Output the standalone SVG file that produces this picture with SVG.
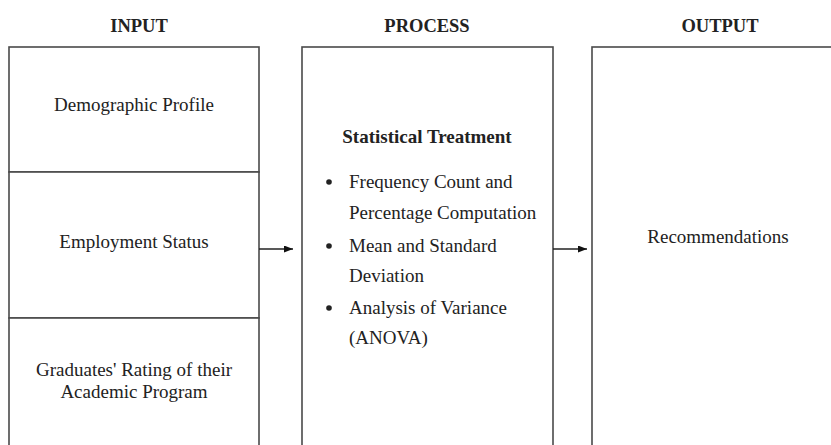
<svg xmlns="http://www.w3.org/2000/svg" width="831" height="445" viewBox="0 0 831 445">
<style>
.box{fill:#fff;stroke:#4a4a4a;stroke-width:1.6}
.t{font-family:"Liberation Serif","Times New Roman",serif;font-size:19px;fill:#222}
.c{text-anchor:middle}
.b{font-weight:bold}
.h{font-family:"Liberation Serif","Times New Roman",serif;font-size:18.5px;font-weight:bold;fill:#222;text-anchor:middle}
.conn{stroke:#222;stroke-width:1.5;fill:none}
</style>
<defs>
<marker id="arr" viewBox="0 0 10 10" refX="10" refY="5" markerWidth="9" markerHeight="7" markerUnits="userSpaceOnUse" orient="auto" preserveAspectRatio="none">
<path d="M0,0 L10,5 L0,10 Z" fill="#111"/>
</marker>
</defs>
<rect width="831" height="445" fill="#fff"/>
<g id="headers">
<text class="h" x="139" y="32">INPUT</text>
<text class="h" x="427" y="32">PROCESS</text>
<text class="h" x="720" y="32">OUTPUT</text>
</g>
<g id="input-demographic">
<rect class="box" x="9" y="47" width="250" height="125"/>
<text class="t c" x="134" y="111">Demographic Profile</text>
</g>
<g id="input-employment">
<rect class="box" x="9" y="172" width="250" height="146"/>
<text class="t c" x="134" y="248">Employment Status</text>
</g>
<g id="input-rating">
<rect class="box" x="9" y="318" width="250" height="150"/>
<text class="t c" x="134" y="376">Graduates' Rating of their</text>
<text class="t c" x="134" y="398">Academic Program</text>
</g>
<g id="process">
<rect class="box" x="302" y="47" width="251" height="420"/>
<text class="t c b" x="427" y="143">Statistical Treatment</text>
<g fill="#222">
<circle cx="329" cy="182" r="2.8"/>
<circle cx="329" cy="246" r="2.8"/>
<circle cx="329" cy="308" r="2.8"/>
</g>
<text class="t" x="349" y="188">Frequency Count and</text>
<text class="t" x="349" y="219">Percentage Computation</text>
<text class="t" x="349" y="252">Mean and Standard</text>
<text class="t" x="349" y="282">Deviation</text>
<text class="t" x="349" y="314">Analysis of Variance</text>
<text class="t" x="349" y="344">(ANOVA)</text>
</g>
<g id="output">
<rect class="box" x="592" y="47" width="256" height="420"/>
<text class="t c" x="718" y="243">Recommendations</text>
</g>
<g id="connectors">
<line class="conn" x1="259" y1="249" x2="293" y2="249" marker-end="url(#arr)"/>
<line class="conn" x1="553" y1="249" x2="587" y2="249" marker-end="url(#arr)"/>
</g>
</svg>
